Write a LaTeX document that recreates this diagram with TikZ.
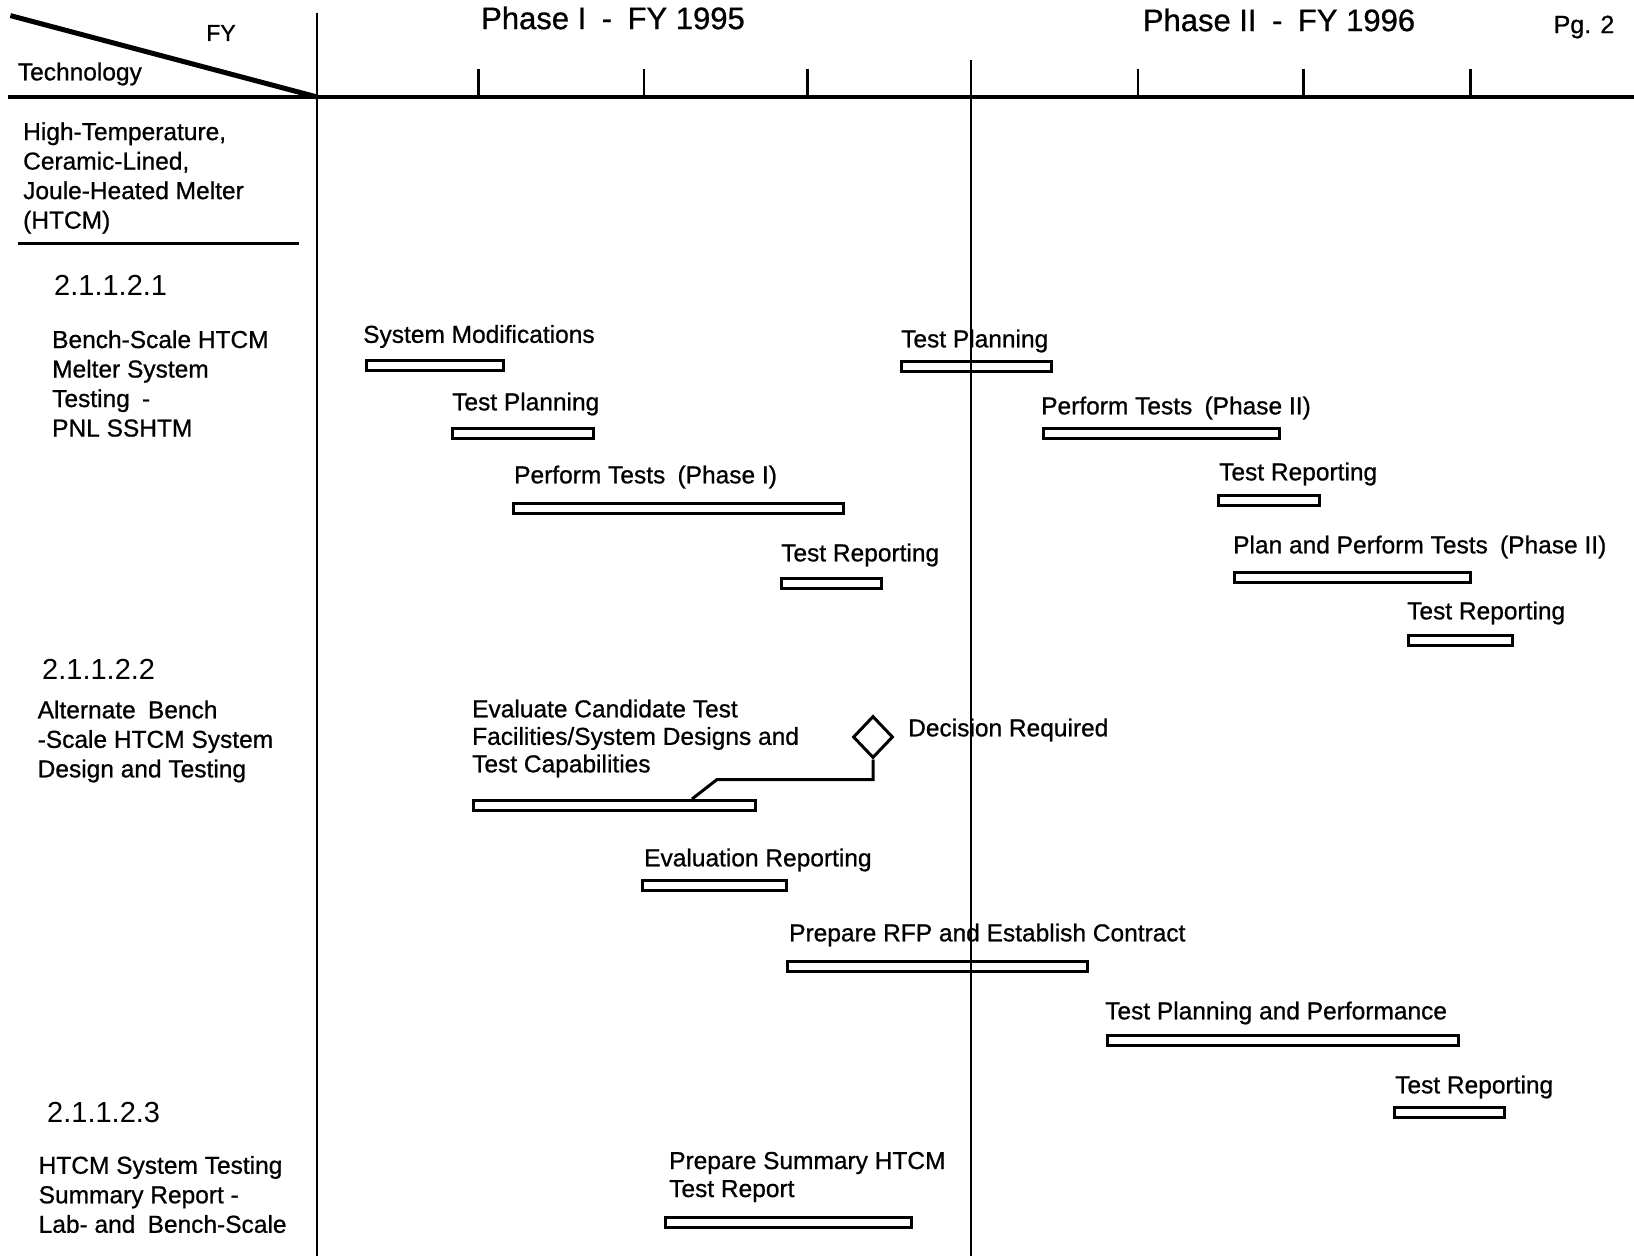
\documentclass[tikz,border=0pt]{standalone}
\usepackage{fontspec}
\setmainfont{Liberation Sans}[FakeBold=0.8]
\newfontfamily\numfont{Liberation Sans}
\usetikzlibrary{shapes.geometric}
\tikzset{
  bar/.style={draw=black, line width=3pt, fill=white, rectangle, inner sep=0pt, minimum height=10pt, anchor=west},
  task/.style={anchor=west, inner sep=0pt, align=left, yshift=-2pt, font=\fontsize{24.5}{28}\selectfont},
  head/.style={anchor=west, inner sep=0pt, align=left, font=\fontsize{24.5}{29.5}\selectfont},
  wbs/.style={anchor=west, inner sep=0pt, font=\numfont\fontsize{29}{34}\selectfont},
  phase/.style={inner sep=0pt, font=\fontsize{31}{36}\selectfont},
  tick/.style={draw=black, line width=2.5pt},
}

\begin{document}
\begin{tikzpicture}[x=1pt, y=-1pt]
        \useasboundingbox (0,0) rectangle (1634,1256);

        % header
        \draw[line width=5pt] (10.4,15.6) -- (316.8,96.9);
        \draw[line width=3.5pt] (8.3,96.9) -- (1634,96.9);
        \draw[line width=2.5pt] (316.8,12.5) -- (316.8,1256);
        \node[inner sep=0pt, font=\fontsize{23}{26}\selectfont] (fy) at (221,33) {FY};
        \node[head] (techlbl) at (17.7,74) {Technology};
        \node[phase] (phase1) at (613,18) {Phase I\enspace -\enspace FY 1995};
        \node[phase] (phase2) at (1279,20) {Phase II\enspace -\enspace FY 1996};
        \node[inner sep=0pt, font=\fontsize{25}{30}\selectfont] (page) at (1584,27) {Pg. 2};
        \foreach \tx in {478.3,644.0,807.6,1138.0,1303.7,1470.4}
            \draw[tick] (\tx,68.8) -- (\tx,96.9);

        % technology
        \node[head] (tech) at (23,178) {High-Temperature,\\Ceramic-Lined,\\Joule-Heated Melter\\(HTCM)};
        \draw[line width=3pt] (18,243) -- (299,243);

        % 2.1.1.2.1
        \node[wbs] (wbs1) at (54,285) {2.1.1.2.1};
        \node[head] (sec1) at (52,383.5) {Bench-Scale HTCM\\Melter System\\Testing\enspace -\\PNL SSHTM};
        \node[bar, minimum width=137pt] (sysmod) at (365,365.5) {};
        \node[task] (sysmodlbl) at (363,334.5) {System Modifications};
        \node[bar, minimum width=141pt] (plan1) at (451,433.5) {};
        \node[task] (plan1lbl) at (452,402) {Test Planning};
        \node[bar, minimum width=330pt] (perf1) at (512,508.5) {};
        \node[task] (perf1lbl) at (514,475) {Perform Tests\enspace (Phase I)};
        \node[bar, minimum width=100pt] (rep1) at (780,583) {};
        \node[task] (rep1lbl) at (781,553) {Test Reporting};
        \node[bar, minimum width=150pt] (plan2) at (900,366.5) {};
        \node[task] (plan2lbl) at (901,339) {Test Planning};
        \node[bar, minimum width=236pt] (perf2) at (1042,433) {};
        \node[task] (perf2lbl) at (1041,406) {Perform Tests\enspace (Phase II)};
        \node[bar, minimum width=101pt] (rep2) at (1217,500) {};
        \node[task] (rep2lbl) at (1219,472) {Test Reporting};
        \node[bar, minimum width=236pt] (planperf) at (1233,577.5) {};
        \node[task] (planperflbl) at (1233,545) {Plan and Perform Tests\enspace (Phase II)};
        \node[bar, minimum width=104pt] (rep3) at (1407,640.5) {};
        \node[task] (rep3lbl) at (1407,611) {Test Reporting};

        % 2.1.1.2.2
        \node[wbs] (wbs2) at (42,669) {2.1.1.2.2};
        \node[head] (sec2) at (37.5,741.5) {Alternate\enspace Bench\\-Scale HTCM System\\Design and Testing};
        \node[bar, minimum width=282pt] (evalbar) at (472,805.5) {};
        \node[task, font=\fontsize{24.5}{27.5}\selectfont] (evallbl) at (472,736.5) {Evaluate Candidate Test\\Facilities/System Designs and\\Test Capabilities};
        \node[diamond, draw, line width=3pt, inner sep=0pt, minimum width=40pt, minimum height=42pt] (decision) at (873,737) {};
        \node[task] (decisionlbl) at (908,728) {Decision Required};
        \coordinate (kink) at (717,779.5);
        \coordinate (hook) at (692,799);
        \draw[line width=3pt] (decision.south) |- (kink) -- (hook);
        \node[bar, minimum width=144pt] (evalrep) at (641,885) {};
        \node[task] (evalreplbl) at (644,858) {Evaluation Reporting};
        \node[bar, minimum width=300pt] (rfp) at (786,966) {};
        \node[task] (rfplbl) at (789,933) {Prepare RFP and Establish Contract};
        \node[bar, minimum width=351pt] (tpp) at (1106,1040) {};
        \node[task] (tpplbl) at (1105,1011) {Test Planning and Performance};
        \node[bar, minimum width=110pt] (rep4) at (1393,1112.5) {};
        \node[task] (rep4lbl) at (1395,1085) {Test Reporting};

        % 2.1.1.2.3
        \node[wbs] (wbs3) at (47,1113) {2.1.1.2.3};
        \node[head] (sec3) at (38.5,1194.5) {HTCM System Testing\\Summary Report -\\Lab- and\enspace Bench-Scale};
        \node[bar, minimum width=246pt] (summary) at (664,1222) {};
        \node[task] (summarylbl) at (669,1175) {Prepare Summary HTCM\\Test Report};

        % FY 1995 / FY 1996 divider
        \draw[line width=2pt] (971.2,60.4) -- (971.2,1256);
\end{tikzpicture}
\end{document}
